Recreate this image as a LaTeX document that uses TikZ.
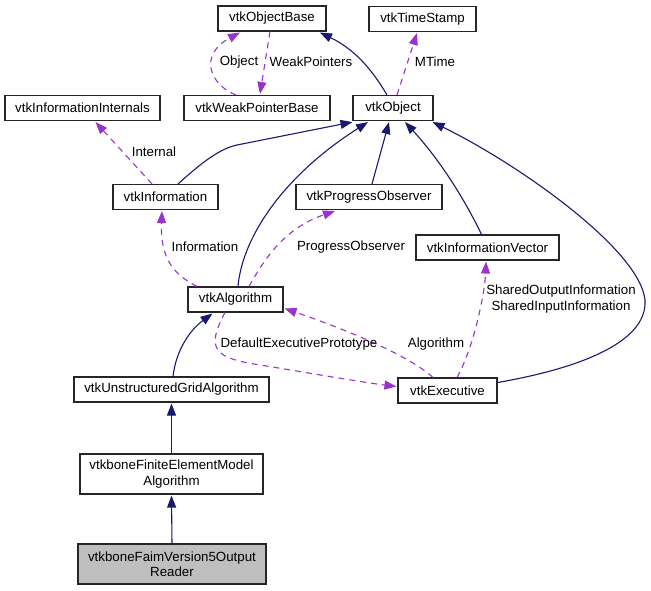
\documentclass[tikz,border=0pt]{standalone}
\usepackage{fontspec}
\setmainfont{Liberation Sans}
\usetikzlibrary{arrows.meta,calc}
\definecolor{navy}{HTML}{191970}
\definecolor{orchid}{HTML}{9A32CD}
\definecolor{grayfill}{HTML}{BFBFBF}
\begin{document}
\begin{tikzpicture}[x=1pt,y=-1pt,
  box/.style={draw=black!85,line width=1.1pt,rectangle,inner sep=0pt,minimum height=25pt,font=\fontsize{13.3}{15.5}\selectfont,align=center,fill=white},
  box2/.style={box,minimum height=40pt},
  inh/.style={draw=navy,line width=1.1pt,-{Triangle[length=12pt,width=9pt]},fill=none},
  use/.style={draw=orchid,line width=1.1pt,dash pattern=on 6pt off 5pt,-{Triangle[length=12pt,width=9pt]},fill=none},
  lbl/.style={font=\fontsize{13.3}{15.5}\selectfont,align=center,inner sep=0pt}]
\useasboundingbox (0,0) rectangle (651,591);
% nodes
\node[box,minimum width=108pt] (objbase) at (272,18.5) {vtkObjectBase};
\node[box,minimum width=107pt] (timestamp) at (422.5,19) {vtkTimeStamp};
\node[box,minimum width=146pt] (weakptr) at (257,108) {vtkWeakPointerBase};
\node[box,minimum width=80pt] (object) at (393,108) {vtkObject};
\node[box,minimum width=155pt] (infoint) at (82.5,108) {vtkInformationInternals};
\node[box,minimum width=105pt] (info) at (165.5,197) {vtkInformation};
\node[box,minimum width=146pt] (progress) at (369,197) {vtkProgressObserver};
\node[box,minimum width=143pt] (infovec) at (487.5,247.5) {vtkInformationVector};
\node[box,minimum width=95pt] (algo) at (235.5,299.5) {vtkAlgorithm};
\node[box,minimum width=99pt] (exec) at (447.5,390.5) {vtkExecutive};
\node[box,minimum width=195pt] (ugrid) at (171.5,389.5) {vtkUnstructuredGridAlgorithm};
\node[box2,minimum width=183pt] (fem) at (171.5,474) {vtkboneFiniteElementModel\\Algorithm};
\node[box2,minimum width=188pt,fill=grayfill] (faim) at (172,564) {vtkboneFaimVersion5Output\\Reader};
% inheritance edges
\draw[inh] ($(object.north)+(-6,0)$) .. controls (370,66) and (352,48) .. ($(objbase.south)+(48,1)$);
\draw[inh] ($(info.north)+(12.5,0)$) .. controls (198,166) and (218,149) .. (237,145) -- ($(object.south west)+(0,1)$);
\draw[inh] ($(algo.north)+(2.5,0)$) .. controls (242,240) and (280,178) .. ($(object.south)+(-25,1)$);
\draw[inh] ($(progress.north)+(3,0)$) -- ($(object.south)+(-4,1)$);
\draw[inh] ($(infovec.north)+(-6,0)$) .. controls (465,200) and (440,160) .. ($(object.south)+(12,1)$);
\draw[inh] ($(exec.east)+(0,-8)$) .. controls (570,370) and (648,345) .. (645,300) .. controls (640,250) and (520,165) .. ($(object.south east)+(-1,1)$);
\draw[inh] ($(ugrid.north)+(1.5,0)$) .. controls (176,350) and (190,330) .. ($(algo.south)+(-23,1)$);
\draw[inh] (fem.north) -- ($(ugrid.south)+(0,1)$);
\draw[inh] (faim.north) -- ($(fem.south)+(0,1)$);
% usage edges
\draw[use] ($(object.north)+(4,0)$) -- ($(timestamp.south)+(-5.5,1)$);
\node[lbl] (lmtime) at (435,62) {MTime};
\draw[use] ($(weakptr.north)+(-21,0)$) .. controls (210,85) and (198,55) .. ($(objbase.south)+(-32,1)$);
\node[lbl] (lobj) at (239,62) {Object};
\draw[use] ($(objbase.south)+(-2,0)$) -- ($(weakptr.north)+(3,-1)$);
\node[lbl] (lweak) at (311,62) {WeakPointers};
\draw[use] ($(info.north)+(-13.5,0)$) -- ($(infoint.south)+(13,1)$);
\node[lbl] (lint) at (154,152) {Internal};
\draw[use] ($(algo.north)+(-38.5,0)$) .. controls (175,275) and (160,260) .. ($(info.south)+(-3.5,1)$);
\node[lbl] (linfo) at (205,247) {Information};
\draw[use] ($(algo.north)+(13.5,0)$) .. controls (265,258) and (285,228) .. ($(progress.south)+(-34,1)$);
\node[lbl] (lprog) at (351,247) {ProgressObserver};
\draw[use] ($(exec.north)+(-14.5,0)$) .. controls (405,352) and (330,324) .. ($(algo.east)+(1,9)$);
\node[lbl] (lalgo) at (436,344) {Algorithm};
\draw[use] ($(algo.south)+(-10.5,0)$) .. controls (205,350) and (215,358) .. (260,365) .. controls (310,373) and (360,382) .. ($(exec.west)+(-1,-4)$);
\node[lbl] (ldef) at (299,344) {DefaultExecutivePrototype};
\draw[use] ($(exec.north)+(9.5,0)$) .. controls (475,345) and (485,290) .. ($(infovec.south)+(-1.5,1)$);
\node[lbl] (lshared) at (561,299) {SharedOutputInformation\\SharedInputInformation};
\end{tikzpicture}
\end{document}
